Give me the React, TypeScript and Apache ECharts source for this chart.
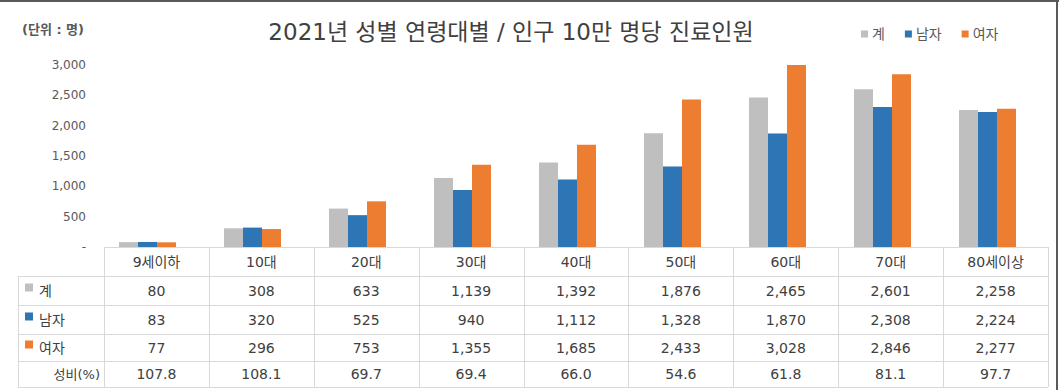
import React, { useEffect, useRef } from "react";
import * as echarts from "echarts";

const categories = ["9세이하", "10대", "20대", "30대", "40대", "50대", "60대", "70대", "80세이상"];
const seriesNames = ["계", "남자", "여자"];
const totalValues = [80, 308, 633, 1139, 1392, 1876, 2465, 2601, 2258];
const maleValues = [83, 320, 525, 940, 1112, 1328, 1870, 2308, 2224];
const femaleValues = [77, 296, 753, 1355, 1685, 2433, 3028, 2846, 2277];
const sexRatio = ["107.8", "108.1", "69.7", "69.4", "66.0", "54.6", "61.8", "81.1", "97.7"];
const ratioLabel = "성비(%)";
const titleText = "2021년 성별 연령대별 / 인구 10만 명당 진료인원";
const unitText = "(단위 : 명)";

const colors = ["#BFBFBF", "#2E75B6", "#ED7D31"];
const FONT = "'DejaVu Sans', 'Noto Sans CJK KR', sans-serif";
const TEXT = "#404040";
const LINE = "#D9D9D9";

const fmt = (v: number) => v.toLocaleString("en-US");

export default function App() {
  const ref = useRef<HTMLDivElement>(null);
  useEffect(() => {
    if (!ref.current) return;
    const chart = echarts.init(ref.current, null, { renderer: "svg" });

    const tLeft = 18;
    const colStart = 104;
    const colEnd = 1048;
    const colW = (colEnd - colStart) / categories.length;
    const rowY = [247, 276, 305, 334, 361, 387];

    const g: any[] = [];
    // frame
    g.push({ type: "rect", shape: { x: 0, y: 0, width: 1059, height: 2 }, style: { fill: "#595959" } });
    g.push({ type: "rect", shape: { x: 1056, y: 0, width: 2, height: 390 }, style: { fill: "#595959" } });
    // title / unit
    g.push({ type: "text", x: 511, y: 32, style: { text: titleText, font: `23px ${FONT}`, fill: TEXT, align: "center", verticalAlign: "middle" } });
    g.push({ type: "text", x: 22, y: 29, style: { text: unitText, font: `bold 13px ${FONT}`, fill: "#595959", align: "left", verticalAlign: "middle" } });

    // table lines
    const ln = (x1: number, y1: number, x2: number, y2: number) =>
      g.push({ type: "line", shape: { x1, y1, x2, y2 }, style: { stroke: LINE, lineWidth: 1 } });
    ln(colStart, rowY[0] + 0.5, colEnd, rowY[0] + 0.5);
    for (let r = 1; r < rowY.length; r++) ln(tLeft, rowY[r] + 0.5, colEnd, rowY[r] + 0.5);
    ln(tLeft + 0.5, rowY[1], tLeft + 0.5, rowY[5]);
    for (let c = 0; c <= categories.length; c++) {
      const x = Math.round(colStart + c * colW) + 0.5;
      ln(x, rowY[0], x, rowY[5]);
    }
    const cellText = (text: string, cx: number, cy: number) =>
      g.push({ type: "text", x: cx, y: cy, style: { text, font: `14px ${FONT}`, fill: TEXT, align: "center", verticalAlign: "middle" } });

    const rows = [totalValues.map(fmt), maleValues.map(fmt), femaleValues.map(fmt), sexRatio];
    categories.forEach((c, i) => {
      const cx = colStart + (i + 0.5) * colW;
      cellText(c, cx, (rowY[0] + rowY[1]) / 2);
      rows.forEach((row, r) => cellText(row[i], cx, (rowY[r + 1] + rowY[r + 2]) / 2));
    });
    seriesNames.forEach((n, r) => {
      const cy = (rowY[r + 1] + rowY[r + 2]) / 2;
      g.push({ type: "rect", shape: { x: 25, y: cy - 7, width: 8, height: 8 }, style: { fill: colors[r] } });
      g.push({ type: "text", x: 39, y: cy, style: { text: n, font: `14px ${FONT}`, fill: TEXT, align: "left", verticalAlign: "middle" } });
    });
    g.push({ type: "text", x: 100, y: (rowY[4] + rowY[5]) / 2, style: { text: ratioLabel, font: `13px ${FONT}`, fill: TEXT, align: "right", verticalAlign: "middle" } });

    const data = [totalValues, maleValues, femaleValues];
    chart.setOption({
      animation: false,
      backgroundColor: "#fff",
      textStyle: { fontFamily: FONT },
      grid: { left: 95, right: 19, top: 65, bottom: 143 },
      legend: {
        data: seriesNames,
        left: 856,
        top: 22,
        itemWidth: 7,
        itemHeight: 7,
        itemGap: 20,
        icon: "rect",
        textStyle: { fontSize: 14, color: "#595959", fontFamily: FONT, padding: [0, 0, 0, -1] },
      },
      xAxis: {
        type: "category",
        data: categories,
        axisLine: { show: false },
        axisTick: { show: false },
        axisLabel: { show: false },
      },
      yAxis: {
        type: "value",
        min: 0,
        max: 3000,
        interval: 500,
        splitLine: { show: false },
        axisLine: { show: false },
        axisTick: { show: false },
        axisLabel: {
          margin: 9,
          fontSize: 12,
          color: "#595959",
          fontFamily: FONT,
          formatter: (v: number) => (v === 0 ? "-" : fmt(v)),
        },
      },
      series: seriesNames.map((n, i) => ({
        name: n,
        type: "bar",
        data: data[i],
        barWidth: 19,
        barGap: "0%",
        itemStyle: { color: colors[i] },
      })),
      graphic: g,
    });
    return () => chart.dispose();
  }, []);
  return <div ref={ref} style={{ position: "absolute", left: 0, top: 0, width: 1059, height: 390 }} />;
}
